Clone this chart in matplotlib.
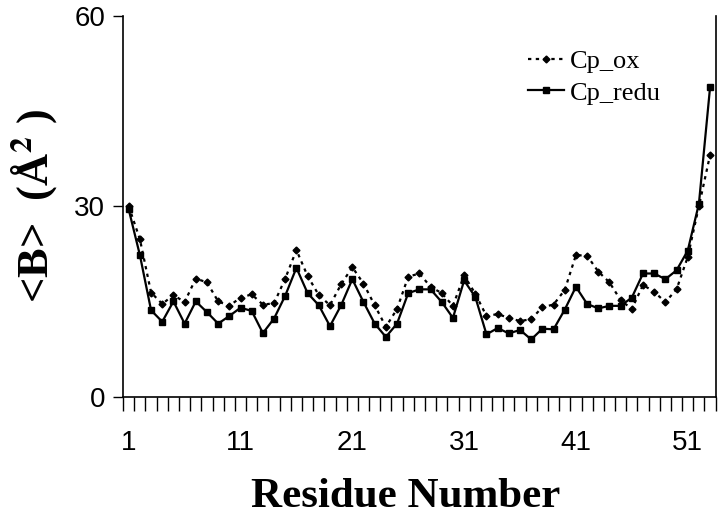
import numpy as np
import matplotlib
matplotlib.use('Agg')
import matplotlib.pyplot as plt
from matplotlib.ticker import FixedLocator

plt.rcParams['mathtext.fontset'] = 'stix'

residues = list(range(1, 54))

# B-factors
cp_ox = [30.0, 24.8, 16.4, 14.6, 16.0, 14.9, 18.6, 18.0, 15.0, 14.3,
         15.6, 16.1, 14.5, 14.7, 18.6, 23.1, 19.0, 16.0, 14.4, 17.7,
         20.4, 17.8, 14.4, 11.0, 13.8, 18.9, 19.4, 17.3, 16.3, 14.3,
         19.1, 16.2, 12.7, 13.0, 12.4, 11.9, 12.2, 14.1, 14.5, 16.8,
         22.3, 22.2, 19.7, 18.0, 15.2, 13.8, 17.6, 16.5, 14.9, 16.9,
         22.0, 30.0, 38.1]
cp_redu = [29.5, 22.3, 13.6, 11.8, 15.0, 11.5, 15.0, 13.3, 11.5, 12.7,
           14.0, 13.5, 10.0, 12.3, 15.9, 20.3, 16.3, 14.4, 11.1, 14.4,
           18.5, 14.9, 11.5, 9.4, 11.5, 16.3, 16.9, 16.9, 14.9, 12.4,
           18.3, 15.7, 9.8, 10.8, 9.95, 10.5, 9.0, 10.7, 10.6, 13.7,
           17.3, 14.6, 13.9, 14.3, 14.3, 15.6, 19.4, 19.4, 18.5, 19.9,
           23.0, 30.4, 48.8]

x_labels = [1, 11, 21, 31, 41, 51]
y_ticks = [0, 30, 60]

fig = plt.figure(figsize=(7.2, 5.15), dpi=100)
ax = fig.add_axes([0.171, 0.230, 0.823, 0.739])

ax.plot(residues, cp_ox, linestyle=(0, (1.5, 2)), color='black', lw=1.6,
        marker='D', markersize=3.5, label='Cp_ox')
ax.plot(residues, cp_redu, linestyle='-', color='black', lw=1.6,
        marker='s', markersize=4.5, label='Cp_redu')

ax.set_xlim(0.5, 53.5)
ax.set_ylim(0, 60)

# labels at residue centres, tick marks between residues
ax.xaxis.set_major_locator(FixedLocator(x_labels))
ax.xaxis.set_minor_locator(FixedLocator(np.arange(0.5, 54, 1)))
ax.tick_params(axis='x', which='major', length=0, pad=24)
ax.tick_params(axis='x', which='minor', length=10, width=1, direction='out')
ax.set_yticks(y_ticks)
ax.tick_params(axis='y', length=7, width=1, direction='out', pad=6)

for lab in ax.get_xticklabels() + ax.get_yticklabels():
    lab.set_fontfamily('Liberation Sans')
    lab.set_fontsize(20)

ax.spines['top'].set_visible(False)
for s in ['left', 'bottom', 'right']:
    ax.spines[s].set_linewidth(1.2)

ax.set_xlabel('Residue Number', fontfamily='Liberation Serif',
              fontweight='bold', fontsize=31)
ax.xaxis.set_label_coords(0.477, -0.215)
ax.set_ylabel(r'<B>  (Å$^{\mathbf{2}}$ )', fontfamily='Liberation Serif',
              fontweight='bold', fontsize=32, labelpad=10)

leg = ax.legend(loc='center left', bbox_to_anchor=(0.643, 0.839), frameon=False,
                prop={'family': 'Liberation Serif', 'size': 19},
                handlelength=1.35, handletextpad=0.25, labelspacing=0.3,
                borderpad=0.4)

fig.savefig('out.png', dpi=100)
